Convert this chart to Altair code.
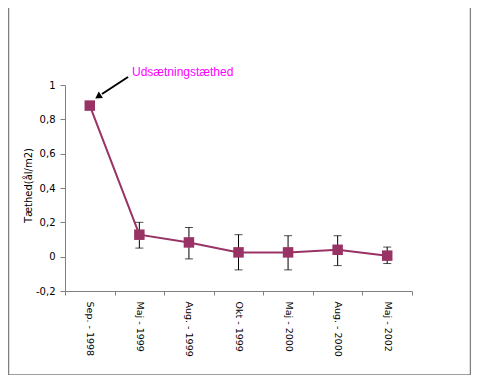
import altair as alt
import pandas as pd

categories = ["Sep. - 1998", "Maj - 1999", "Aug. - 1999", "Okt - 1999", "Maj - 2000", "Aug. - 2000", "Maj - 2002"]
values = [0.88, 0.128, 0.083, 0.025, 0.025, 0.040, 0.006]
err_lo = [None, 0.050, -0.013, -0.077, -0.077, -0.052, -0.040]
err_hi = [None, 0.200, 0.170, 0.128, 0.122, 0.122, 0.056]

df = pd.DataFrame({"cat": categories, "v": values, "lo": err_lo, "hi": err_hi})
err = df.dropna()

W, H = 347, 206
FONT = "DejaVu Sans"
COL = "#993366"
YTITLE = "Tæthed(ål/m2)"

xaxis = alt.Axis(labelAngle=90, labelAlign="left", labelBaseline="middle",
                 labelPadding=6, tickBand="extent", tickSize=4, tickOffset=0,
                 domainColor="#808080", tickColor="#808080", labelOverlap=False,
                 labelFont=FONT, labelFontSize=9.5, labelColor="#000000")
xscale = alt.Scale(paddingInner=0, paddingOuter=0)
yaxis = alt.Axis(values=[-0.2, 0, 0.2, 0.4, 0.6, 0.8, 1.0], grid=False,
                 labelExpr="replace(replace(format(datum.value, '.1~f'), '.', ','), '\u2212', '-')",
                 labelOverlap=False, labelFlush=False, labelPadding=5,
                 tickSize=5, domainColor="#808080", tickColor="#808080",
                 labelFont=FONT, labelFontSize=10, labelColor="#000000",
                 titleFont=FONT, titleFontSize=10, titleFontWeight="normal",
                 titleColor="#000000", titleX=-32, titleY=100, titleAngle=-90,
                 titleAlign="center", titleBaseline="bottom")
yscale = alt.Scale(domain=[-0.2, 1.0], nice=False, zero=False)


def X():
    return alt.X("cat:N", sort=categories, title=None, scale=xscale, axis=xaxis)


def Y(field):
    return alt.Y(field, title=YTITLE, scale=yscale, axis=yaxis)


base = alt.Chart(df)
line = base.mark_line(color=COL, strokeWidth=2).encode(x=X(), y=Y("v:Q"))
pts = base.mark_point(shape="square", filled=True, opacity=1, size=110, color=COL).encode(x=X(), y=Y("v:Q"))

ebase = alt.Chart(err)
rules = ebase.mark_rule(color="black", strokeWidth=1).encode(x=X(), y=Y("lo:Q"), y2="hi:Q")
cap_lo = ebase.mark_tick(color="black", orient="horizontal", size=8, thickness=1).encode(x=X(), y=Y("lo:Q"))
cap_hi = ebase.mark_tick(color="black", orient="horizontal", size=8, thickness=1).encode(x=X(), y=Y("hi:Q"))

# annotation (pixel positions relative to plot area)
ann_df = pd.DataFrame({"t": ["Udsætningstæthed"]})
ann_text = alt.Chart(ann_df).mark_text(color="#FF00FF", font="Liberation Sans", fontSize=12,
                                       align="left", baseline="middle").encode(
    text="t:N", x=alt.value(67), y=alt.value(-13))
arrow_line = alt.Chart(ann_df).mark_rule(color="black", strokeWidth=2).encode(
    x=alt.value(63), y=alt.value(-8), x2=alt.value(37), y2=alt.value(9))
arrow_head = alt.Chart(ann_df).mark_point(shape="triangle", filled=True, color="black",
                                          opacity=1, size=60, angle=237).encode(
    x=alt.value(34), y=alt.value(11))

border = alt.Chart(ann_df).mark_rect(fill=None, stroke="#808080", strokeWidth=1.5).encode(
    x=alt.value(-56.5), x2=alt.value(405.5), y=alt.value(-78.5), y2=alt.value(290))

chart = alt.layer(line, border, rules, cap_lo, cap_hi, pts, arrow_line, arrow_head, ann_text).properties(
    width=W, height=H,
    autosize=alt.AutoSizeParams(type="none"),
    padding={"left": 57, "top": 77, "right": 59, "bottom": 84},
).configure(background="white", view=alt.ViewConfig(stroke=None))

chart.save("out.html", embed_options={"renderer": "svg", "actions": False})
